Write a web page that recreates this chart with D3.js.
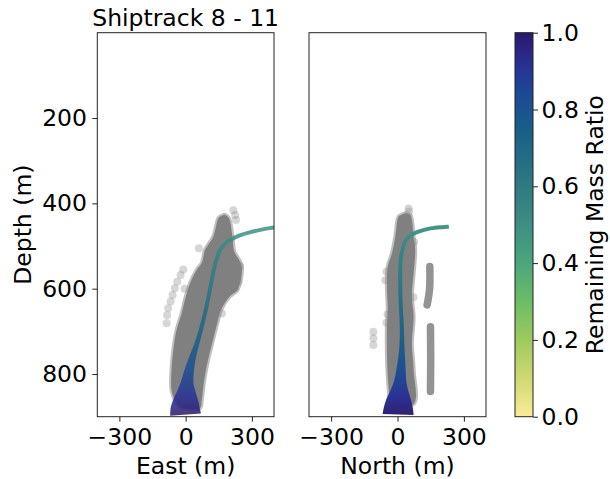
<!DOCTYPE html>
<html>
<head>
<meta charset="utf-8">
<script src="https://cdn.jsdelivr.net/npm/d3@7"></script>
<style>
  body { margin: 0; background: #fff; }
  text { font-family: "DejaVu Sans", sans-serif; }
</style>
</head>
<body>
<div id="chart"></div>
<script>
// plume centreline (shared depth for both views)
const depth     = [895, 880, 860, 840, 820, 790, 760, 730, 700, 670, 640, 610, 580, 550, 530, 510, 495, 485, 475, 468, 462, 458, 455];
const east      = [0, -2, 1, 4, 7, 17, 32, 50, 67, 82, 95, 107, 118, 130, 141, 155, 178, 205, 245, 290, 338, 380, 430];
const north     = [3, 4, 6, 9, 12, 16, 19, 20, 20, 18, 15, 13, 12, 13, 15, 22, 30, 40, 60, 85, 120, 160, 232];
const diameter  = [140, 132, 112, 82, 58, 42, 30, 22, 19, 18, 18, 18, 18, 18, 18, 18, 18, 18, 18, 18, 18, 18, 18];
const massRatio = [1.0, 0.97, 0.93, 0.9, 0.87, 0.83, 0.79, 0.76, 0.73, 0.7, 0.67, 0.64, 0.61, 0.58, 0.56, 0.54, 0.52, 0.51, 0.5, 0.5, 0.49, 0.49, 0.48];

// particle cloud outlines [horizontal m, depth m]
const eastCloud = [[148,435],[125,478],[88,509],[73,540],[50,556],[20,587],[-3,626],[-18,658],[-41,697],[-56,744],[-64,790],[-64,837],[-49,861],[-26,876],[20,882],[65,880],[73,861],[82,822],[98,775],[120,728],[143,681],[160,650],[198,619],[234,603],[255,556],[247,537],[220,513],[212,478],[196,435],[179,427],[159,430]];
const northCloud = [[5,431],[-10,478],[-25,517],[-44,548],[-48,595],[-44,650],[-48,689],[-48,751],[-44,806],[-38,845],[-33,870],[73,870],[73,790],[65,728],[73,666],[65,619],[73,564],[80,509],[73,478],[65,439],[58,427],[35,423],[17,427]];
// loose particles
const eastFaint = [[-11,555],[-23,568],[-38,584],[-49,599],[-59,615],[-68,630],[-79,646],[-84,662],[-86,681],[216,416],[224,427],[228,439],[247,548],[239,584],[224,599],[164,658],[60,505],[-5,600]];
const northFaint = [[-109,701],[-109,716],[-109,732],[-50,560],[-55,580],[-45,660],[-50,680],[50,412],[52,419],[75,490],[72,620]];
const northStreaks = [
  [[146,548],[145,600],[134,638]],
  [[149,689],[150,760],[149,841]]
];

const xTicks = [-300, 0, 300];
const yTicks = [200, 400, 600, 800];
const cbTicks = [0, 0.2, 0.4, 0.6, 0.8, 1.0];

// haline_r like colormap
const cmap = d3.scaleLinear()
  .domain([0, 0.1, 0.2, 0.3, 0.4, 0.52, 0.6, 0.68, 0.76, 0.84, 0.92, 1.0])
  .range(["#fbec99","#cfd873","#9dca5d","#6cbc66","#4ba67b","#3a8a84","#2f7a82","#236b84","#185c8a","#1b4a93","#2a2f95","#2a186c"])
  .interpolate(d3.interpolateRgb);

const width = 610, height = 479;
const plotTop = 32.7, plotBottom = 416.7;
const fs = 23.5;

const svg = d3.select("#chart").append("svg")
  .attr("width", width).attr("height", height);
const defs = svg.append("defs");

let y = d3.scaleLinear().domain([0, 900]).range([plotTop, plotBottom]);

// vertical gradient for the plume, depth -> mass ratio
const grad = defs.append("linearGradient")
  .attr("id", "plumeGrad")
  .attr("gradientUnits", "userSpaceOnUse")
  .attr("x1", 0).attr("x2", 0)
  .attr("y1", y(depth[0])).attr("y2", y(depth[depth.length - 1]));
depth.forEach((d, i) => {
  grad.append("stop")
    .attr("offset", (y(d) - y(depth[0])) / (y(depth[depth.length - 1]) - y(depth[0])))
    .attr("stop-color", cmap(massRatio[i]));
});

const panels = [
  { x0: 97.3, x1: 274, h: east, label: "East (m)", cloud: eastCloud, faint: eastFaint, streaks: [], yaxis: true, alpha: 0.85 },
  { x0: 309, x1: 486, h: north, label: "North (m)", cloud: northCloud, faint: northFaint, streaks: northStreaks, yaxis: false, alpha: 0.97 }
];

panels.forEach((p, pi) => {
  let x = d3.scaleLinear().domain([-400, 400]).range([p.x0, p.x1]);
  const g = svg.append("g");

  defs.append("clipPath").attr("id", "clip" + pi)
    .append("rect").attr("x", p.x0).attr("y", plotTop)
    .attr("width", p.x1 - p.x0).attr("height", plotBottom - plotTop);

  const plot = g.append("g").attr("clip-path", `url(#clip${pi})`);

  const outline = d3.line().x(d => x(d[0])).y(d => y(d[1])).curve(d3.curveCatmullRomClosed);
  // soft edge then solid core
  plot.append("path").attr("d", outline(p.cloud))
    .attr("fill", "none").attr("stroke", "#808080").attr("stroke-opacity", 0.5)
    .attr("stroke-width", 4).attr("stroke-linejoin", "round");
  plot.append("path").attr("d", outline(p.cloud))
    .attr("fill", "#808080");

  plot.selectAll(".streak").data(p.streaks).join("path")
    .attr("class", "streak")
    .attr("d", d3.line().x(d => x(d[0])).y(d => y(d[1])).curve(d3.curveCatmullRom))
    .attr("fill", "none").attr("stroke", "#878787").attr("stroke-opacity", 0.9)
    .attr("stroke-width", 7.5).attr("stroke-linecap", "round");

  plot.selectAll(".faint").data(p.faint).join("circle")
    .attr("class", "faint")
    .attr("cx", d => x(d[0])).attr("cy", d => y(d[1]))
    .attr("r", 4).attr("fill", "#808080").attr("fill-opacity", 0.32);

  // plume ribbon
  const kx = x(1) - x(0);
  const pts = depth.map((d, i) => [x(p.h[i]), y(d)]);
  const left = [], right = [];
  pts.forEach((pt, i) => {
    const a = pts[Math.max(0, i - 1)], b = pts[Math.min(pts.length - 1, i + 1)];
    let tx = b[0] - a[0], ty = b[1] - a[1];
    const len = Math.hypot(tx, ty) || 1;
    tx /= len; ty /= len;
    const w = diameter[i] * kx / 2;
    left.push([pt[0] - ty * w, pt[1] + tx * w]);
    right.push([pt[0] + ty * w, pt[1] - tx * w]);
  });
  const side = d3.line().curve(d3.curveCatmullRom);
  const ribbon = side(left) + "L" + side(right.reverse()).slice(1) + "Z";
  plot.append("path").attr("d", ribbon)
    .attr("fill", "url(#plumeGrad)").attr("fill-opacity", p.alpha);

  // axes
  const xa = g.append("g")
    .attr("transform", `translate(0,${plotBottom})`)
    .call(d3.axisBottom(x).tickValues(xTicks).tickSize(5).tickPadding(6.6).tickSizeOuter(0));
  xa.select(".domain").remove();
  xa.selectAll("text").attr("font-size", fs).attr("fill", "#000");
  xa.selectAll("line").attr("stroke", "#222");

  if (p.yaxis) {
    const ya = g.append("g")
      .attr("transform", `translate(${p.x0},0)`)
      .call(d3.axisLeft(y).tickValues(yTicks).tickSize(5).tickPadding(5.3).tickSizeOuter(0));
    ya.select(".domain").remove();
    ya.selectAll("text").attr("font-size", fs).attr("fill", "#000");
    ya.selectAll("line").attr("stroke", "#222");
  }

  g.append("rect").attr("x", p.x0).attr("y", plotTop)
    .attr("width", p.x1 - p.x0).attr("height", plotBottom - plotTop)
    .attr("fill", "none").attr("stroke", "#222").attr("stroke-width", 1);

  g.append("text").attr("x", (p.x0 + p.x1) / 2).attr("y", 474)
    .attr("text-anchor", "middle").attr("font-size", fs).text(p.label);
});

svg.append("text").attr("x", (97.3 + 274) / 2).attr("y", 26)
  .attr("text-anchor", "middle").attr("font-size", fs).text("Shiptrack 8 - 11");

svg.append("text")
  .attr("transform", `translate(30.5,${(plotTop + plotBottom) / 2}) rotate(-90)`)
  .attr("text-anchor", "middle").attr("font-size", fs).text("Depth (m)");

// colorbar
const cbX = 515, cbW = 18;
const cbScale = d3.scaleLinear().domain([0, 1]).range([plotBottom, plotTop]);
const cbGrad = defs.append("linearGradient").attr("id", "cbGrad")
  .attr("x1", 0).attr("x2", 0).attr("y1", 1).attr("y2", 0);
d3.range(0, 1.001, 0.05).forEach(v => {
  cbGrad.append("stop").attr("offset", v).attr("stop-color", cmap(v));
});
svg.append("rect").attr("x", cbX).attr("y", plotTop)
  .attr("width", cbW).attr("height", plotBottom - plotTop)
  .attr("fill", "url(#cbGrad)").attr("stroke", "#222").attr("stroke-width", 1);
const cba = svg.append("g")
  .attr("transform", `translate(${cbX + cbW},0)`)
  .call(d3.axisRight(cbScale).tickValues(cbTicks).tickFormat(d3.format(".1f")).tickSize(5).tickPadding(3.5).tickSizeOuter(0));
cba.select(".domain").remove();
cba.selectAll("text").attr("font-size", fs).attr("fill", "#000");
cba.selectAll("line").attr("stroke", "#222");

svg.append("text")
  .attr("transform", `translate(603,${(plotTop + plotBottom) / 2}) rotate(-90)`)
  .attr("text-anchor", "middle").attr("font-size", fs).text("Remaining Mass Ratio");
</script>
</body>
</html>
